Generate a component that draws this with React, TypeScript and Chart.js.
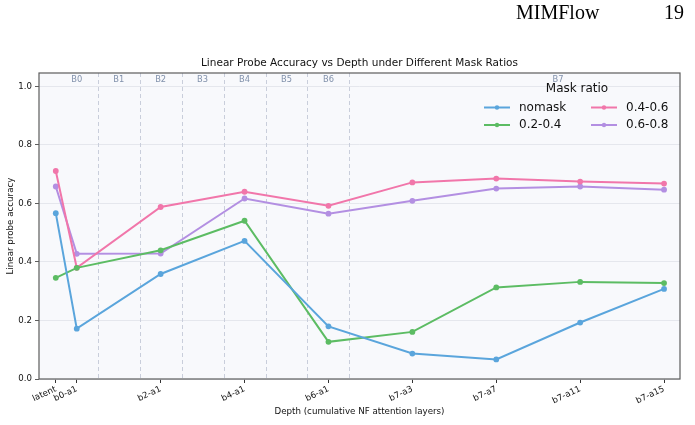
import { useEffect, useRef } from 'react';
import { Chart, registerables } from 'chart.js';

Chart.register(...registerables);

// ---- data ----
const categories = ['latent', 'b0-a1', 'b2-a1', 'b4-a1', 'b6-a1', 'b7-a3', 'b7-a7', 'b7-a11', 'b7-a15'];
const depthPositions = [0, 0.5, 2.5, 4.5, 6.5, 8.5, 10.5, 12.5, 14.5];
const nomask = [0.567, 0.172, 0.359, 0.472, 0.180, 0.087, 0.067, 0.193, 0.308];
const mask02_04 = [0.346, 0.380, 0.440, 0.541, 0.127, 0.161, 0.313, 0.332, 0.328];
const mask04_06 = [0.711, 0.380, 0.588, 0.640, 0.592, 0.672, 0.685, 0.675, 0.668];
const mask06_08 = [0.658, 0.428, 0.429, 0.617, 0.565, 0.609, 0.651, 0.658, 0.647];
const seriesNames = ['nomask', '0.2-0.4', '0.4-0.6', '0.6-0.8'];
const seriesColors = ['#5aa5dc', '#5cbc63', '#f176aa', '#b38fe2'];
const blockNames = ['B0', 'B1', 'B2', 'B3', 'B4', 'B5', 'B6', 'B7'];
const blockCenters = [0.5, 1.5, 2.5, 3.5, 4.5, 5.5, 6.5, 11.97];
const blockBoundaries = [1, 2, 3, 4, 5, 6, 7];
const yTicks = [0, 0.2, 0.4, 0.6, 0.8, 1.0];

const FONT = 'DejaVu Sans';

const decorPlugin = {
  id: 'decor',
  beforeDraw(chart: any) {
    const { ctx, chartArea: a } = chart;
    ctx.save();
    ctx.fillStyle = '#ffffff';
    ctx.fillRect(0, 0, chart.width, chart.height);
    ctx.fillStyle = '#f8f9fc';
    ctx.fillRect(a.left, a.top, a.right - a.left, a.bottom - a.top);
    ctx.restore();
  },
  beforeDatasetsDraw(chart: any) {
    const { ctx, chartArea: a, scales } = chart;
    const xs = scales.x;
    ctx.save();
    ctx.strokeStyle = '#c9cedb';
    ctx.lineWidth = 1;
    ctx.setLineDash([4, 3]);
    blockBoundaries.forEach((b) => {
      const px = Math.round(xs.getPixelForValue(b)) + 0.5;
      ctx.beginPath();
      ctx.moveTo(px, a.top);
      ctx.lineTo(px, a.bottom);
      ctx.stroke();
    });
    ctx.setLineDash([]);
    ctx.fillStyle = '#8191ab';
    ctx.font = `8.3px "${FONT}"`;
    ctx.textAlign = 'center';
    ctx.textBaseline = 'middle';
    blockNames.forEach((n, i) => {
      ctx.fillText(n, xs.getPixelForValue(blockCenters[i]), a.top + 7);
    });
    ctx.restore();
  },
  afterDraw(chart: any) {
    const { ctx, chartArea: a } = chart;
    ctx.save();
    // frame
    ctx.strokeStyle = '#5c5c5c';
    ctx.lineWidth = 1.2;
    ctx.strokeRect(a.left, a.top, a.right - a.left, a.bottom - a.top);

    // title
    ctx.fillStyle = '#111';
    ctx.font = `10.5px "${FONT}"`;
    ctx.textAlign = 'center';
    ctx.textBaseline = 'middle';
    ctx.fillText('Linear Probe Accuracy vs Depth under Different Mask Ratios', (a.left + a.right) / 2, 63);

    // axis titles
    ctx.font = `8.7px "${FONT}"`;
    ctx.fillText('Depth (cumulative NF attention layers)', (a.left + a.right) / 2, 412);
    ctx.save();
    ctx.translate(11, (a.top + a.bottom) / 2);
    ctx.rotate(-Math.PI / 2);
    ctx.fillText('Linear probe accuracy', 0, 0);
    ctx.restore();

    // header
    ctx.fillStyle = '#000';
    ctx.font = `20px "Liberation Serif"`;
    ctx.textAlign = 'left';
    ctx.textBaseline = 'alphabetic';
    ctx.fillText('MIMFlow', 516, 19);
    ctx.fillText('19', 664, 19);

    // legend
    ctx.fillStyle = '#111';
    ctx.font = `12px "${FONT}"`;
    ctx.textAlign = 'center';
    ctx.textBaseline = 'middle';
    ctx.fillText('Mask ratio', 577, 89);
    const order = [0, 2, 1, 3];
    const colLine = [484, 591];
    const rowY = [107.5, 125];
    order.forEach((si, k) => {
      const col = k % 2;
      const row = Math.floor(k / 2);
      const x0 = colLine[col];
      const y = rowY[row];
      ctx.strokeStyle = seriesColors[si];
      ctx.lineWidth = 2;
      ctx.beginPath();
      ctx.moveTo(x0, y);
      ctx.lineTo(x0 + 26, y);
      ctx.stroke();
      ctx.fillStyle = seriesColors[si];
      ctx.beginPath();
      ctx.arc(x0 + 13, y, 2.2, 0, Math.PI * 2);
      ctx.fill();
      ctx.fillStyle = '#111';
      ctx.textAlign = 'left';
      ctx.fillText(seriesNames[si], x0 + 35, y);
    });
    ctx.restore();
  },
};

export default function App() {
  const ref = useRef<HTMLCanvasElement | null>(null);
  useEffect(() => {
    if (!ref.current) return;
    const allSeries = [nomask, mask02_04, mask04_06, mask06_08];
    const chart = new Chart(ref.current, {
      type: 'line',
      data: {
        datasets: allSeries.map((s, i) => ({
          label: seriesNames[i],
          data: s.map((v, j) => ({ x: depthPositions[j], y: v })),
          borderColor: seriesColors[i],
          backgroundColor: seriesColors[i],
          borderWidth: 2,
          pointRadius: 2.9,
          pointBorderWidth: 0,
          pointHoverRadius: 2.9,
          tension: 0,
        })),
      },
      options: {
        responsive: false,
        animation: false,
        layout: { padding: { left: 0, right: 15, top: 73, bottom: 0 } },
        plugins: { legend: { display: false }, title: { display: false }, tooltip: { enabled: false } },
        scales: {
          x: {
            type: 'linear',
            min: -0.4,
            max: 14.88,
            afterBuildTicks: (scale: any) => {
              scale.ticks = depthPositions.map((v) => ({ value: v }));
            },
            afterFit: (scale: any) => {
              scale.height = 46;
            },
            border: { display: false },
            grid: {
              drawOnChartArea: false,
              drawTicks: true,
              tickLength: 4,
              tickColor: '#333',
            },
            ticks: {
              autoSkip: false,
              minRotation: 25,
              maxRotation: 25,
              padding: 1,
              color: '#111',
              font: { family: FONT, size: 8.6 },
              callback: (v: any) => {
                const idx = depthPositions.indexOf(Number(v));
                return idx >= 0 ? categories[idx] : '';
              },
            },
          },
          y: {
            type: 'linear',
            min: 0,
            max: 1.046,
            afterBuildTicks: (scale: any) => {
              scale.ticks = yTicks.map((v) => ({ value: v }));
            },
            afterFit: (scale: any) => {
              scale.width = 39;
            },
            border: { display: false },
            grid: {
              color: '#dfe2e8',
              lineWidth: 0.8,
              borderDash: [1.5, 2],
              drawTicks: true,
              tickLength: 4,
              tickColor: '#333',
              tickBorderDash: [],
            },
            ticks: {
              padding: 3,
              color: '#111',
              font: { family: FONT, size: 8.6 },
              callback: (v: any) => Number(v).toFixed(1),
            },
          },
        },
      },
      plugins: [decorPlugin],
    });
    return () => chart.destroy();
  }, []);
  return (
    <canvas
      ref={ref}
      width={695}
      height={425}
      style={{ position: 'absolute', left: 0, top: 0, width: 695, height: 425 }}
    />
  );
}
